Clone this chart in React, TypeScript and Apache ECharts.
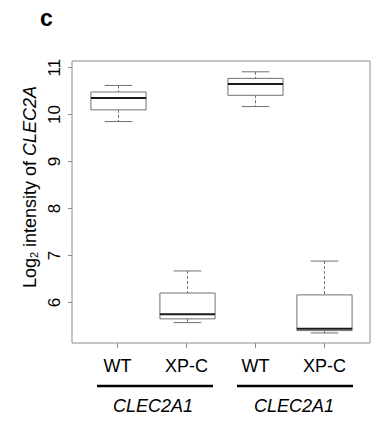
import React, { useEffect, useRef } from "react";
import * as echarts from "echarts";

const categories = ["WT", "XP-C", "WT", "XP-C"];
const positions = [1, 2, 3, 4];
const whiskerLow = [9.85, 5.57, 10.17, 5.35];
const q1 = [10.1, 5.65, 10.41, 5.4];
const medians = [10.35, 5.75, 10.65, 5.44];
const q3 = [10.48, 6.2, 10.77, 6.16];
const whiskerHigh = [10.62, 6.67, 10.91, 6.88];
const yTicks = [6, 7, 8, 9, 10, 11];
const groupLabels = ["CLEC2A1", "CLEC2A1"];

const FONT = "Liberation Sans, Arial, Helvetica, sans-serif";
const FRAME = "#8c8c8c";
const BOX = "#707070";

export default function App() {
  const ref = useRef<HTMLDivElement>(null);
  useEffect(() => {
    if (!ref.current) return;
    const chart = echarts.init(ref.current, null, { renderer: "svg" });
    const data = positions.map((p, i) => [p, whiskerLow[i], q1[i], medians[i], q3[i], whiskerHigh[i]]);
    chart.setOption({
      animation: false,
      backgroundColor: "#ffffff",
      grid: { left: 72, top: 61, right: 1, bottom: 80, show: true, borderColor: FRAME, borderWidth: 1, backgroundColor: "transparent" },
      xAxis: {
        type: "value",
        min: 0.34,
        max: 4.66,
        splitLine: { show: false },
        axisLine: { show: false },
        axisTick: { show: true, customValues: positions, length: 5, lineStyle: { color: FRAME } },
        axisLabel: {
          customValues: positions,
          formatter: (v: number) => categories[positions.indexOf(v)] ?? "",
          fontSize: 18,
          color: "#000",
          margin: 14,
          fontFamily: FONT,
        },
      },
      yAxis: {
        type: "value",
        min: 5.136,
        max: 11.14,
        splitLine: { show: false },
        axisLine: { show: false },
        axisTick: { show: true, customValues: yTicks, length: 4, lineStyle: { color: FRAME } },
        axisLabel: {
          customValues: yTicks,
          rotate: 90,
          fontSize: 17,
          color: "#000",
          margin: 9,
          fontFamily: FONT,
        },
      },
      series: [
        {
          type: "custom",
          data,
          encode: { x: 0, y: [1, 2, 3, 4, 5] },
          renderItem: (params: any, api: any) => {
            const x = api.value(0);
            const lo = api.coord([x, api.value(1)]);
            const b1 = api.coord([x, api.value(2)]);
            const md = api.coord([x, api.value(3)]);
            const b3 = api.coord([x, api.value(4)]);
            const hi = api.coord([x, api.value(5)]);
            const w = api.size([0.8, 0])[0];
            const cx = Math.round(lo[0]) + 0.5;
            const half = w / 2;
            const cap = w / 4;
            const dash = { stroke: BOX, lineWidth: 1, lineDash: [3, 2] };
            const solid = { stroke: BOX, lineWidth: 1 };
            return {
              type: "group",
              children: [
                { type: "line", shape: { x1: cx, y1: hi[1], x2: cx, y2: b3[1] }, style: dash },
                { type: "line", shape: { x1: cx, y1: b1[1], x2: cx, y2: lo[1] }, style: dash },
                { type: "line", shape: { x1: cx - cap, y1: hi[1], x2: cx + cap, y2: hi[1] }, style: solid },
                { type: "line", shape: { x1: cx - cap, y1: lo[1], x2: cx + cap, y2: lo[1] }, style: solid },
                {
                  type: "rect",
                  shape: { x: cx - half, y: b3[1], width: w, height: b1[1] - b3[1] },
                  style: { fill: "#ffffff", stroke: BOX, lineWidth: 1 },
                },
                { type: "line", shape: { x1: cx - half, y1: md[1], x2: cx + half, y2: md[1] }, style: { stroke: "#1a1a1a", lineWidth: 2 } },
              ],
            };
          },
        },
      ],
      graphic: [
        {
          type: "text",
          x: 40,
          y: 18,
          style: { text: "c", font: `bold 23px ${FONT}`, fill: "#000", align: "left", verticalAlign: "middle" },
        },
        {
          type: "text",
          x: 30,
          y: 187,
          rotation: Math.PI / 2,
          style: {
            text: "{n|Log}{s|2}{n| intensity of }{i|CLEC2A}",
            align: "center",
            verticalAlign: "middle",
            rich: {
              n: { fontSize: 18, fontFamily: FONT, fill: "#000", lineHeight: 18 },
              s: { fontSize: 11, fontFamily: FONT, fill: "#000", lineHeight: 8, verticalAlign: "bottom" },
              i: { fontSize: 18, fontFamily: FONT, fill: "#000", fontStyle: "italic", lineHeight: 18 },
            },
          },
        },
        { type: "line", shape: { x1: 97, y1: 386, x2: 213, y2: 386 }, style: { stroke: "#000", lineWidth: 2.5 } },
        { type: "line", shape: { x1: 237, y1: 386, x2: 353, y2: 386 }, style: { stroke: "#000", lineWidth: 2.5 } },
        {
          type: "text",
          x: 153,
          y: 406,
          style: { text: groupLabels[0], font: `italic 18px ${FONT}`, fill: "#000", align: "center", verticalAlign: "middle" },
        },
        {
          type: "text",
          x: 294,
          y: 406,
          style: { text: groupLabels[1], font: `italic 18px ${FONT}`, fill: "#000", align: "center", verticalAlign: "middle" },
        },
      ],
    });
    return () => chart.dispose();
  }, []);
  return (
    <div
      ref={ref}
      style={{ position: "fixed", left: 0, top: 0, width: 371, height: 423, background: "#fff" }}
    />
  );
}
